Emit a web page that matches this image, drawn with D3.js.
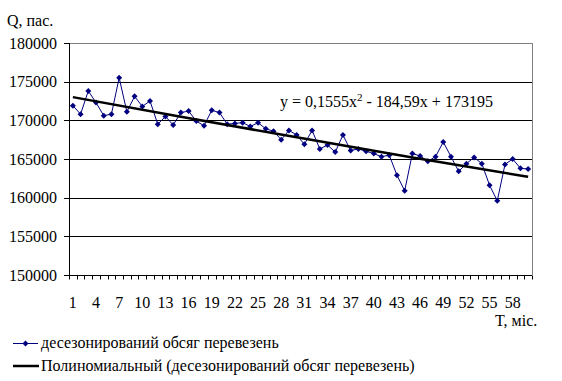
<!DOCTYPE html>
<html>
<head>
<meta charset="utf-8">
<title>Deseasonalised volume</title>
<script src="https://cdn.jsdelivr.net/npm/d3@7"></script>
</head>
<body style="margin:0;background:#ffffff">
<script>
// months 1..60
const months = d3.range(1, 61);

// deseasonalised volume of passenger transport
const volume = [
  171900, 170800, 173800, 172300, 170600, 170800, 175500, 171100, 173100, 171800,
  172500, 169500, 170500, 169400, 171000, 171200, 169900, 169300, 171300, 171000,
  169500, 169600, 169700, 169200, 169700, 168900, 168600, 167500, 168700, 168100,
  166900, 168700, 166300, 166800, 165900, 168100, 166100, 166300, 166000, 165700,
  165300, 165500, 162900, 160900, 165700, 165400, 164700, 165300, 167200, 165300,
  163400, 164400, 165200, 164400, 161600, 159600, 164300, 165000, 163800, 163700
];

// trend line points
const trendMonths = [1, 15, 30, 45, 60];
const trendValues = [173000, 170460, 167800, 165200, 162700];

const yTicks = [150000, 155000, 160000, 165000, 170000, 175000, 180000];
const xTickLabels = months.filter(m => (m - 1) % 3 === 0);

const yTitle = "Q, пас.";
const xTitle = "T, міс.";
const legendNames = [
  "десезонирований обсяг перевезень",
  "Полиномиальный (десезонирований обсяг перевезень)"
];

const W = 562, H = 381;
const m = { top: 43, right: 30, bottom: 106, left: 69 };
const FONT = "Liberation Serif";

const svg = d3.select("body").append("svg")
  .attr("width", W)
  .attr("height", H)
  .attr("font-family", FONT)
  .attr("font-size", 16);

const x = d3.scaleBand().domain(months).range([m.left, W - m.right]);
const y = d3.scaleLinear().domain([150000, 180000]).range([H - m.bottom, m.top]);
const cx = d => x(d) + x.bandwidth() / 2;
const py = v => Math.round(y(v)) + 0.5;

// gridlines (top one grey like the plot border)
svg.append("g").selectAll("line").data(yTicks.slice(1)).join("line")
  .attr("x1", m.left).attr("x2", W - m.right)
  .attr("y1", py).attr("y2", py)
  .attr("stroke", d => d === 180000 ? "#808080" : "#000");

svg.append("line")
  .attr("x1", W - m.right + 0.5).attr("x2", W - m.right + 0.5)
  .attr("y1", m.top).attr("y2", H - m.bottom)
  .attr("stroke", "#808080");

// y axis
svg.append("line")
  .attr("x1", m.left + 0.5).attr("x2", m.left + 0.5)
  .attr("y1", m.top).attr("y2", py(150000))
  .attr("stroke", "#000");
svg.append("g").selectAll("line").data(yTicks).join("line")
  .attr("x1", m.left - 5).attr("x2", m.left)
  .attr("y1", py).attr("y2", py)
  .attr("stroke", "#000");
svg.append("g").selectAll("text").data(yTicks).join("text")
  .attr("x", m.left - 12)
  .attr("y", d => y(d) + 5.5)
  .attr("text-anchor", "end")
  .text(d => d);

// x axis, ticks at category boundaries
svg.append("line")
  .attr("x1", m.left).attr("x2", W - m.right)
  .attr("y1", py(150000)).attr("y2", py(150000))
  .attr("stroke", "#000");
svg.append("g").selectAll("line").data(d3.range(0, months.length + 1)).join("line")
  .attr("x1", i => Math.round(m.left + i * x.step()) + 0.5)
  .attr("x2", i => Math.round(m.left + i * x.step()) + 0.5)
  .attr("y1", py(150000)).attr("y2", py(150000) + 4)
  .attr("stroke", "#000");
svg.append("g").selectAll("text").data(xTickLabels).join("text")
  .attr("x", cx)
  .attr("y", py(150000) + 32)
  .attr("text-anchor", "middle")
  .text(d => d);

// data series
svg.append("path")
  .datum(volume)
  .attr("fill", "none")
  .attr("stroke", "#000080")
  .attr("d", d3.line().x((d, i) => cx(months[i])).y(d => y(d)));

const marker = d3.symbol().type(d3.symbolSquare).size(18);
svg.append("g").selectAll("path").data(volume).join("path")
  .attr("d", marker)
  .attr("transform", (d, i) => `translate(${cx(months[i])},${y(d)}) rotate(45)`)
  .attr("fill", "#000080");

// polynomial trend
svg.append("path")
  .datum(trendValues)
  .attr("fill", "none")
  .attr("stroke", "#000")
  .attr("stroke-width", 2.5)
  .attr("d", d3.line().x((d, i) => cx(trendMonths[i])).y(d => y(d)).curve(d3.curveMonotoneX));

// equation
const eq = svg.append("text").attr("x", 280).attr("y", 107);
eq.append("tspan").text("y = 0,1555x");
eq.append("tspan").attr("dy", -6).attr("font-size", 11).text("2");
eq.append("tspan").attr("dy", 6).text(" - 184,59x + 173195");

// axis titles
svg.append("text").attr("x", 7).attr("y", 26).text(yTitle);
svg.append("text").attr("x", 495).attr("y", 326).text(xTitle);

// legend
const ly = [343, 366];
svg.append("line").attr("x1", 13).attr("x2", 38)
  .attr("y1", ly[0] + 0.5).attr("y2", ly[0] + 0.5).attr("stroke", "#000080");
svg.append("path").attr("d", marker)
  .attr("transform", `translate(25.5,${ly[0] + 0.5}) rotate(45)`).attr("fill", "#000080");
svg.append("line").attr("x1", 13).attr("x2", 39)
  .attr("y1", ly[1]).attr("y2", ly[1]).attr("stroke", "#000").attr("stroke-width", 2.5);
svg.append("g").selectAll("text").data(legendNames).join("text")
  .attr("x", 41)
  .attr("y", (d, i) => ly[i] + 5)
  .text(d => d);
</script>
</body>
</html>
